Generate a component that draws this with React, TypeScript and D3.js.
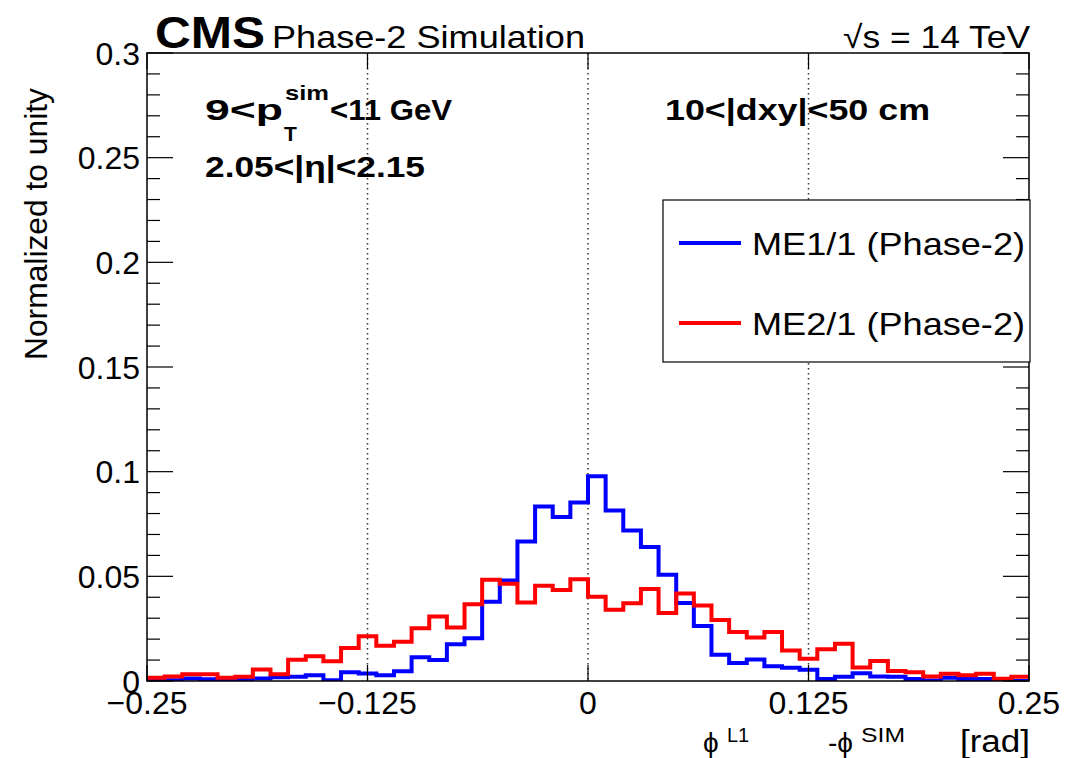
import React from "react";
import * as d3 from "d3";

// bin contents, 50 bins of 0.01 rad from -0.25 to 0.25
const me11 = [
  0, 0.0003, 0.0012, 0.0008, 0.001, 0.0008, 0.0012, 0.0018, 0.002, 0.0028,
  0.0004, 0.0042, 0.0036, 0.0027, 0.0047, 0.0114, 0.01, 0.0175, 0.0204, 0.0378,
  0.048, 0.0667, 0.0834, 0.0783, 0.0853, 0.0978, 0.0815, 0.0719, 0.064, 0.0508,
  0.0373, 0.0263, 0.0125, 0.0086, 0.0103, 0.007, 0.0063, 0.0054, 0.001, 0.002,
  0.0037, 0.0022, 0.002, 0.001, 0.0002, 0.0015, 0.001, 0.001, 0.0005, 0,
];
const me21 = [
  0.0015, 0.0022, 0.0032, 0.0032, 0.0015, 0.002, 0.0055, 0.0032, 0.0102, 0.0118,
  0.0094, 0.0158, 0.0214, 0.0168, 0.0188, 0.0252, 0.0308, 0.0255, 0.0367, 0.0484,
  0.0464, 0.0375, 0.0455, 0.0435, 0.0486, 0.0403, 0.034, 0.0372, 0.0439, 0.0325,
  0.0418, 0.0361, 0.0292, 0.0234, 0.0208, 0.0234, 0.0146, 0.0106, 0.0152, 0.0178,
  0.0065, 0.0095, 0.0048, 0.0042, 0.0022, 0.0035, 0.0027, 0.0035, 0.0011, 0.002,
];
const xLo = -0.25;
const binWidth = 0.01;
const xTicks = [-0.25, -0.125, 0, 0.125, 0.25];
const xTickLabels = ["\u22120.25", "\u22120.125", "0", "0.125", "0.25"];
const dottedLines = [-0.125, 0, 0.125];
const yMajor = [0, 0.05, 0.1, 0.15, 0.2, 0.25, 0.3];
const yTickLabels = ["0", "0.05", "0.1", "0.15", "0.2", "0.25", "0.3"];
const series = [
  { name: "ME1/1 (Phase-2)", values: me11, color: "#0000ff" },
  { name: "ME2/1 (Phase-2)", values: me21, color: "#ff0000" },
];

const font = "'Liberation Sans', Arial, Helvetica, sans-serif";

export default function App() {
  const width = 1072;
  const height = 758;
  const left = 147;
  const right = 1029;
  const top = 53;
  const bottom = 681;

  const x = d3.scaleLinear().domain([-0.25, 0.25]).range([left, right]);
  const y = d3.scaleLinear().domain([0, 0.3]).range([bottom, top]);
  const yMinor = d3.range(0, 0.3001, 0.01);

  const line = d3
    .line<[number, number]>()
    .x((d) => x(d[0]))
    .y((d) => y(d[1]))
    .curve(d3.curveStepAfter);

  const stepPts = (vals: number[]): [number, number][] => {
    const pts: [number, number][] = vals.map((v, i) => [xLo + i * binWidth, v]);
    pts.push([xLo + vals.length * binWidth, vals[vals.length - 1]]);
    return pts;
  };

  const fit = { lengthAdjust: "spacingAndGlyphs" as const };

  return (
    <svg
      width={width}
      height={height}
      style={{ position: "absolute", left: 0, top: 0, background: "#fff" }}
      fontFamily={font}
    >
      <rect width={width} height={height} fill="#fff" />

      {/* dotted guides */}
      {dottedLines.map((d) => (
        <line
          key={d}
          x1={x(d)}
          x2={x(d)}
          y1={top}
          y2={bottom}
          stroke="#333"
          strokeWidth={1.5}
          strokeDasharray="1.5,3.5"
        />
      ))}

      {/* histograms */}
      <clipPath id="plotclip">
        <rect x={left} y={top} width={right - left} height={bottom - top} />
      </clipPath>
      <g clipPath="url(#plotclip)">
        {series.map((s) => (
          <path
            key={s.name}
            d={line(stepPts(s.values)) ?? ""}
            fill="none"
            stroke={s.color}
            strokeWidth={4}
          />
        ))}
      </g>

      {/* frame */}
      <rect
        x={left}
        y={top}
        width={right - left}
        height={bottom - top}
        fill="none"
        stroke="#000"
        strokeWidth={1.5}
      />

      {/* y ticks */}
      {yMinor.map((v, i) => {
        const len = i % 5 === 0 ? 26 : 13;
        return (
          <g key={i}>
            <line x1={left} x2={left + len} y1={y(v)} y2={y(v)} stroke="#000" strokeWidth={1.2} />
            <line x1={right} x2={right - len} y1={y(v)} y2={y(v)} stroke="#000" strokeWidth={1.2} />
          </g>
        );
      })}
      {yMajor.map((v, i) => (
        <text key={v} x={left - 7} y={y(v) + 11.5} textAnchor="end" fontSize={32}>
          {yTickLabels[i]}
        </text>
      ))}
      <text
        transform={`translate(47, 88) rotate(-90)`}
        textAnchor="end"
        fontSize={32}
        textLength={272}
        {...fit}
      >
        Normalized to unity
      </text>

      {/* x ticks */}
      {xTicks.map((v, i) => (
        <g key={v}>
          <line x1={x(v)} x2={x(v)} y1={bottom} y2={bottom - 16} stroke="#000" strokeWidth={1.2} />
          <line x1={x(v)} x2={x(v)} y1={top} y2={top + 16} stroke="#000" strokeWidth={1.2} />
          <text x={x(v)} y={714} textAnchor="middle" fontSize={32}>
            {xTickLabels[i]}
          </text>
        </g>
      ))}

      {/* x title */}
      <text x={703} y={752} fontSize={28}>{"\u03d5"}</text>
      <text x={727} y={742} fontSize={20}>L1</text>
      <text x={828} y={752} fontSize={28}>{"-\u03d5"}</text>
      <text x={861} y={742} fontSize={20} textLength={44} {...fit}>SIM</text>
      <text x={960} y={752} fontSize={31} textLength={70} {...fit}>[rad]</text>

      {/* header */}
      <text x={155} y={48} fontSize={44} fontWeight="bold" textLength={110} {...fit}>
        CMS
      </text>
      <text x={272} y={48} fontSize={32} textLength={313} {...fit}>
        Phase-2 Simulation
      </text>
      <text x={1030} y={48} fontSize={32} textAnchor="end" textLength={187} {...fit}>
        {"\u221as = 14 TeV"}
      </text>

      {/* annotations */}
      <g fontWeight="bold">
        <text x={205} y={120} fontSize={30} textLength={78} {...fit}>9&lt;p</text>
        <text x={285} y={100} fontSize={21} textLength={44} {...fit}>sim</text>
        <text x={284} y={141} fontSize={21}>T</text>
        <text x={330} y={120} fontSize={30} textLength={122} {...fit}>&lt;11 GeV</text>
        <text x={205} y={177} fontSize={30} textLength={220} {...fit}>
          {"2.05<|\u03b7|<2.15"}
        </text>
        <text x={665} y={120} fontSize={30} textLength={265} {...fit}>
          10&lt;|dxy|&lt;50 cm
        </text>
      </g>

      {/* legend */}
      <rect x={663} y={200} width={367} height={162} fill="#fff" stroke="#000" strokeWidth={1.2} />
      {series.map((s, i) => (
        <g key={s.name} transform={`translate(0, ${243 + i * 80})`}>
          <line x1={679} x2={741} y1={0} y2={0} stroke={s.color} strokeWidth={4} />
          <text x={752} y={12} fontSize={32} textLength={273} {...fit}>
            {s.name}
          </text>
        </g>
      ))}
    </svg>
  );
}
